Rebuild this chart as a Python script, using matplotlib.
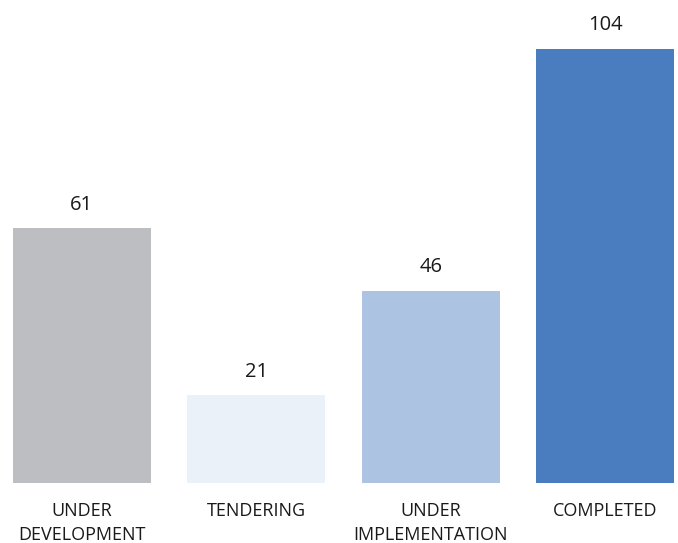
import matplotlib
matplotlib.use("Agg")
import matplotlib.pyplot as plt

categories = ["UNDER\nDEVELOPMENT", "TENDERING", "UNDER\nIMPLEMENTATION", "COMPLETED"]
values = [61, 21, 46, 104]
colors = ["#BDBEC2", "#EAF1F9", "#ACC3E1", "#4A7CC0"]

plt.rcParams["font.family"] = ["Open Sans", "DejaVu Sans"]

W, H = 678, 543
fig = plt.figure(figsize=(W / 100, H / 100), dpi=100)
# axes spans the bar area: left edge of first bar to right edge of last, baseline to top of tallest
ax = fig.add_axes([13 / W, (H - 483) / H, (674 - 13) / W, (483 - 49) / H])

x = range(len(values))
ax.bar(x, values, width=0.79, color=colors)
ax.set_xlim(-0.395, 3.395)
ax.set_ylim(0, max(values))

for xi, v in zip(x, values):
    ax.annotate(str(v), (xi, v), xytext=(0, 17), textcoords="offset points",
                ha="center", va="center", fontsize=14.5, color="#1a1a1a",
                annotation_clip=False)

for xi, lab in zip(x, categories):
    ax.annotate(lab, (xi, 0), xytext=(0, -14), textcoords="offset points",
                ha="center", va="top", fontsize=13, color="#1a1a1a",
                linespacing=1.4, annotation_clip=False)

ax.axis("off")
fig.savefig("out.png", dpi=100)
